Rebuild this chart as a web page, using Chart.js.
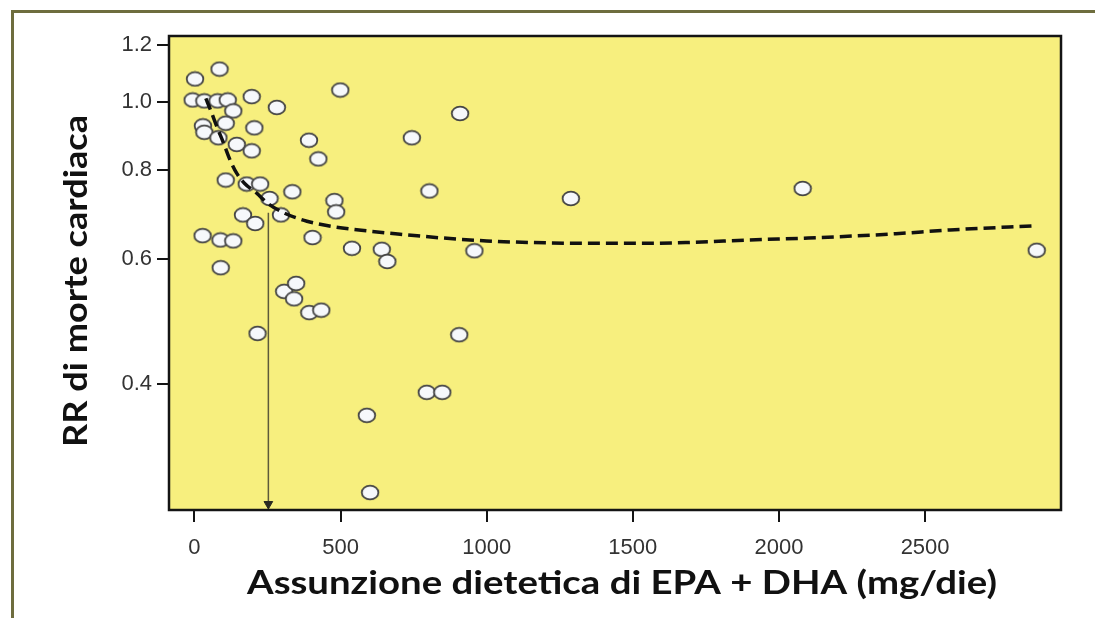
<!DOCTYPE html>
<html>
<head>
<meta charset="utf-8">
<script src="https://cdn.jsdelivr.net/npm/chart.js@4.4.1/dist/chart.umd.min.js"></script>
<style>
  html, body { margin: 0; padding: 0; background: #fff; }
  #wrap { position: relative; width: 1095px; height: 618px; overflow: hidden; }
  #frame {
    position: absolute; left: 11px; top: 10px; right: -10px; bottom: -10px;
    border-top: 3px solid #6e6d3e; border-left: 3px solid #6e6d3e;
  }
  #chart { position: absolute; left: 0; top: 0; }
</style>
</head>
<body>
<div id="wrap">
  <div id="frame"></div>
  <canvas id="chart" width="1095" height="618"></canvas>
</div>
<script>
"use strict";

// Studies: EPA + DHA intake (mg/day) and relative risk of cardiac death
const intakeMg = [
    2, 86, -6, 34, 79, 114, 133, 196, 282, 499,
    29, 34, 107, 82, 205, 145, 196, 392, 424, 107,
    179, 225, 257, 335, 479, 485, 166, 208, 296, 28,
    89, 133, 404, 539, 641, 660, 90, 307, 348, 341,
    393, 434, 216, 590, 601, 744, 909, 804, 1288, 958,
    906, 795, 848, 2081, 2882
];
const rrValues = [
    1.076, 1.111, 1.005, 1.002, 1.002, 1.005, 0.970, 1.016, 0.981, 1.038,
    0.924, 0.905, 0.932, 0.889, 0.918, 0.870, 0.852, 0.882, 0.830, 0.775,
    0.765, 0.765, 0.730, 0.746, 0.725, 0.699, 0.692, 0.673, 0.692, 0.647,
    0.638, 0.636, 0.643, 0.621, 0.619, 0.595, 0.583, 0.540, 0.554, 0.527,
    0.504, 0.508, 0.471, 0.361, 0.281, 0.889, 0.962, 0.748, 0.730, 0.616,
    0.469, 0.389, 0.389, 0.754, 0.617
];

// Fitted dose-response curve (dashed)
const curveX = [39, 55, 77, 100, 122, 145, 171, 214, 248, 305, 385, 476, 590, 704,
    850, 1000, 1200, 1400, 1560, 1700, 1900, 2100, 2250, 2400, 2585, 2876];
const curveY = [1.010, 0.973, 0.921, 0.873, 0.827, 0.792, 0.767, 0.742, 0.720, 0.697,
    0.678, 0.666, 0.657, 0.650, 0.642, 0.636, 0.632, 0.631, 0.631, 0.633, 0.638,
    0.642, 0.646, 0.651, 0.659, 0.668];

// Arrow marking the threshold intake
const arrowX = [253, 253];
const arrowY = [0.697, 0.2707];

const xTicks = [0, 500, 1000, 1500, 2000, 2500];
const yTicks = [0.4, 0.6, 0.8, 1.0, 1.2];

const xTitle = 'Assunzione dietetica di EPA + DHA (mg/die)';
const yTitle = 'RR di morte cardiaca';

/**
 * Oval marker used for each study
 */
function makeOval() {
    const c = document.createElement('canvas');
    c.width = 20;
    c.height = 17;
    const g = c.getContext('2d');
    g.beginPath();
    g.ellipse(10, 8.5, 8.3, 6.9, 0, 0, Math.PI * 2);
    g.fillStyle = '#f6f8fb';
    g.fill();
    g.lineWidth = 1.8;
    g.strokeStyle = '#444';
    g.stroke();
    return c;
}

// draw text centred at (x, y), stretched along its run to a given length
function stretchedText(ctx, text, x, y, length, angle) {
    ctx.save();
    ctx.translate(x, y);
    ctx.rotate(angle);
    ctx.scale(length / ctx.measureText(text).width, 1);
    ctx.fillText(text, 0, 0);
    ctx.restore();
}

// Yellow plot background, black box and axis titles
const plotDecor = {
    id: 'plotDecor',
    beforeDraw(chart) {
        const { ctx, chartArea: a } = chart;
        ctx.save();
        ctx.fillStyle = '#f7ef7e';
        ctx.fillRect(a.left, a.top, a.right - a.left, a.bottom - a.top);
        ctx.restore();
    },
    afterDraw(chart) {
        const { ctx, chartArea: a } = chart;
        ctx.save();
        ctx.strokeStyle = '#141414';
        ctx.lineWidth = 2.5;
        ctx.strokeRect(a.left, a.top, a.right - a.left, a.bottom - a.top);

        ctx.fillStyle = '#111';
        ctx.textAlign = 'center';
        ctx.textBaseline = 'alphabetic';
        ctx.font = 'bold 33px Lato';
        stretchedText(ctx, xTitle, 622, 594, 750, 0);
        ctx.font = 'bold 32px Lato';
        stretchedText(ctx, yTitle, 87, 281, 332, -Math.PI / 2);
        ctx.restore();
    }
};

const tickFont = { family: '"Liberation Sans", Arial, sans-serif', size: 22 };

new Chart(document.getElementById('chart'), {
    type: 'scatter',
    data: {
        datasets: [
            {
                type: 'line',
                label: 'curve',
                data: curveX.map((x, i) => ({ x: x, y: curveY[i] })),
                borderColor: '#111',
                borderWidth: 3.5,
                borderDash: [12, 6],
                cubicInterpolationMode: 'monotone',
                pointRadius: 0,
                fill: false
            },
            {
                type: 'line',
                label: 'arrow',
                data: arrowX.map((x, i) => ({ x: x, y: arrowY[i] })),
                borderColor: '#5d5a3a',
                borderWidth: 1.5,
                pointStyle: 'triangle',
                rotation: 180,
                pointRadius: [0, 5],
                pointBackgroundColor: '#2a2a22',
                pointBorderColor: '#2a2a22',
                pointBorderWidth: 1,
                fill: false
            },
            {
                label: 'studi',
                data: intakeMg.map((x, i) => ({ x: x, y: rrValues[i] })),
                pointStyle: makeOval(),
                pointRadius: 8
            }
        ]
    },
    options: {
        responsive: false,
        animation: false,
        layout: { padding: { top: 36, right: 34, left: 0, bottom: 0 } },
        plugins: {
            legend: { display: false },
            tooltip: { enabled: false }
        },
        scales: {
            x: {
                type: 'linear',
                min: -87,
                max: 2965,
                afterBuildTicks: (scale) => {
                    scale.ticks = xTicks.map(v => ({ value: v }));
                },
                afterFit: (scale) => { scale.height = 108; },
                grid: {
                    drawOnChartArea: false,
                    tickLength: 12,
                    color: '#141414',
                    lineWidth: 2
                },
                border: { display: false },
                ticks: {
                    font: tickFont,
                    color: '#333',
                    padding: 13,
                    maxRotation: 0,
                    callback: (v) => String(v)
                }
            },
            y: {
                type: 'logarithmic',
                min: 0.2655,
                max: 1.237,
                afterBuildTicks: (scale) => {
                    scale.ticks = yTicks.map(v => ({ value: v }));
                },
                afterFit: (scale) => { scale.width = 169; },
                grid: {
                    drawOnChartArea: false,
                    tickLength: 12,
                    color: '#141414',
                    lineWidth: 2
                },
                border: { display: false },
                ticks: {
                    font: tickFont,
                    color: '#333',
                    padding: 5,
                    callback: (v) => Number(v).toFixed(1)
                }
            }
        }
    },
    plugins: [plotDecor]
});
</script>
</body>
</html>
